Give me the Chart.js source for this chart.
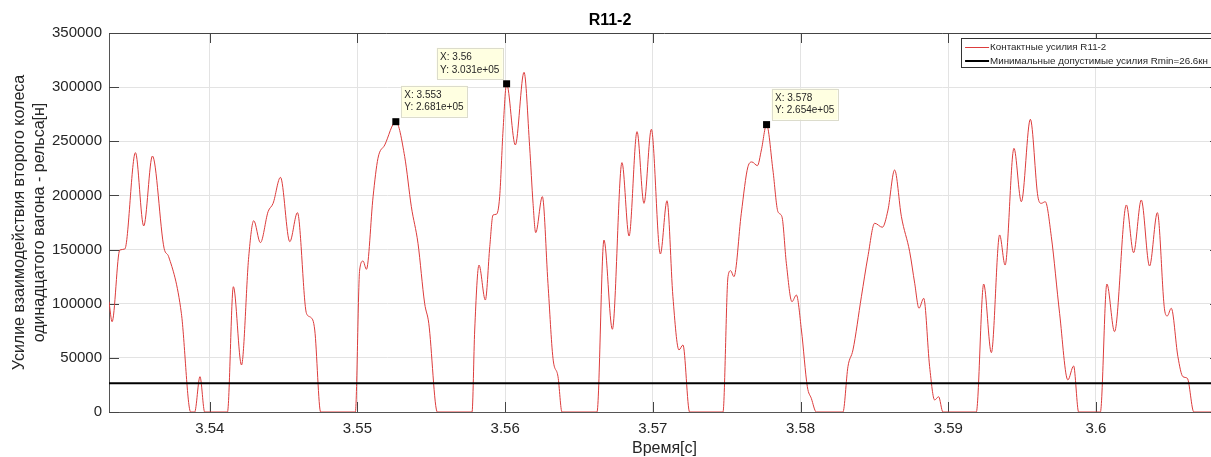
<!DOCTYPE html>
<html>
<head>
<meta charset="utf-8">
<title>R11-2</title>
<script src="https://cdn.jsdelivr.net/npm/chart.js@4/dist/chart.umd.min.js"></script>
<style>
  html, body { margin: 0; padding: 0; background: #fff; }
  #frame { width: 1211px; height: 457px; overflow: hidden; position: relative; }
  #wrap { width: 1224px; height: 457px; position: relative; }
</style>
</head>
<body>
<div id="frame"><div id="wrap"><canvas id="chart"></canvas></div></div>
<script>
// Contact force between wheel 2 of car 11 and the rail: time [s], force [N]
const time = [
  3.53318, 3.53339, 3.53391, 3.53425, 3.53497, 3.53553, 3.53612, 3.53691, 3.53722, 3.53808,
  3.53871, 3.53898, 3.53934, 3.53966, 3.5412, 3.5416, 3.54215, 3.54264, 3.54298, 3.54343,
  3.54395, 3.54429, 3.54479, 3.54542, 3.54594, 3.54655, 3.54684, 3.54711, 3.54751, 3.54986,
  3.55015, 3.55038, 3.55061, 3.55106, 3.55139, 3.55185, 3.5526, 3.5532, 3.55365, 3.5541,
  3.55455, 3.55483, 3.55541, 3.55776, 3.55794, 3.55823, 3.55866, 3.55896, 3.55918, 3.55941,
  3.55963, 3.55986, 3.5601, 3.56069, 3.56128, 3.56166, 3.56189, 3.56207, 3.56252, 3.5629,
  3.56324, 3.56358, 3.56385, 3.56622, 3.56669, 3.56726, 3.56791, 3.56839, 3.56893, 3.5694,
  3.5699, 3.57051, 3.57096, 3.57136, 3.57177, 3.57204, 3.57249, 3.57475, 3.57509, 3.57527,
  3.57549, 3.57599, 3.57644, 3.57671, 3.57708, 3.57735, 3.5777, 3.57813, 3.57847, 3.57874,
  3.57904, 3.57942, 3.57972, 3.58006, 3.58046, 3.58073, 3.58107, 3.58287, 3.58321, 3.58355,
  3.58412, 3.58456, 3.58502, 3.58554, 3.58592, 3.58637, 3.58683, 3.58739, 3.58773, 3.58802,
  3.58834, 3.58874, 3.58908, 3.58935, 3.58964, 3.5919, 3.5924, 3.59292, 3.59348, 3.59385,
  3.59445, 3.59495, 3.59556, 3.59607, 3.5963, 3.59657, 3.59698, 3.59754, 3.5981, 3.59849,
  3.59883, 3.6003, 3.60074, 3.60126, 3.60206, 3.60255, 3.60307, 3.60363, 3.60416, 3.60465,
  3.60483, 3.6051, 3.60555, 3.60589, 3.60619, 3.60663, 3.6084
];
const force = [
  101900, 83400, 149600, 150500, 239500, 171800, 236400, 151200, 143400, 91100,
  0, 0, 32600, 0, 0, 115700, 43400, 143400, 176700, 156400,
  185000, 192700, 216700, 157300, 184100, 91100, 87400, 75700, 0, 0,
  131100, 139400, 131800, 198900, 234300, 246600, 268100, 235800, 189600, 155800,
  100400, 81900, 0, 0, 75700, 135700, 103400, 152700, 181900, 182600,
  198900, 260400, 303100, 246600, 313700, 245000, 192700, 165600, 198900, 118800,
  49600, 32600, 0, 0, 158800, 76400, 230300, 162500, 258900, 192700,
  261100, 145900, 195100, 106500, 57300, 61900, 0, 0, 125000, 130500,
  125000, 183500, 226500, 230900, 227500, 242000, 265400, 223500, 185000, 180400,
  137300, 101900, 108000, 75700, 23400, 12600, 0, 0, 41900, 57300,
  106500, 143400, 174300, 170600, 186500, 223500, 180400, 148000, 118800, 95800,
  105000, 41900, 11100, 14100, 0, 0, 118200, 54800, 163500, 135700,
  243500, 194200, 270300, 198900, 192700, 194200, 161900, 91100, 29600, 42500,
  0, 0, 118200, 74200, 191200, 147100, 195800, 134800, 184100, 94200,
  88700, 95800, 51100, 32600, 31100, 0, 0
];

// Minimum permissible force, N
const RMIN = 26600;

// Axis ticks
const xTicks = [3.54, 3.55, 3.56, 3.57, 3.58, 3.59, 3.60];
const yTicks = [0, 50000, 100000, 150000, 200000, 250000, 300000, 350000];

// Data cursors
const tipX = [3.5526, 3.5601, 3.5777];
const tipY = [268100, 303100, 265400];

const seriesLabel = 'Контактные усилия R11-2';
const rminLabel = 'Минимальные допустимые усилия Rmin=' + (RMIN / 1000) + 'кн';

const FONT = "'Liberation Sans', Arial, Helvetica, sans-serif";
const TEXT = '#262626';

const curve = time.map((t, i) => ({ x: t, y: force[i] }));
const xMin = 3.53318, xMax = 3.6084;
const rminLine = [{ x: xMin, y: RMIN }, { x: xMax, y: RMIN }];

const fmtX = v => String(parseFloat(v.toPrecision(4)));
const fmtY = v => v.toExponential(3).replace(/e([+-])(\d)$/, 'e$10$2');

// Box outline and inward tick marks on all four sides
const axesFrame = {
  id: 'axesFrame',
  beforeDatasetsDraw(chart) {
    const { ctx, chartArea: a, scales } = chart;
    const len = 10;
    ctx.save();
    ctx.strokeStyle = '#444';
    ctx.lineWidth = 1;
    ctx.beginPath();
    ctx.moveTo(a.left, a.top + 0.5); ctx.lineTo(a.right, a.top + 0.5);
    ctx.moveTo(a.right - 0.5, a.top); ctx.lineTo(a.right - 0.5, a.bottom);
    xTicks.forEach(v => {
      const px = Math.round(scales.x.getPixelForValue(v)) + 0.5;
      ctx.moveTo(px, a.bottom); ctx.lineTo(px, a.bottom - len);
      ctx.moveTo(px, a.top); ctx.lineTo(px, a.top + len);
    });
    yTicks.forEach(v => {
      const py = Math.round(scales.y.getPixelForValue(v)) + 0.5;
      ctx.moveTo(a.left, py); ctx.lineTo(a.left + len, py);
      ctx.moveTo(a.right, py); ctx.lineTo(a.right - len, py);
    });
    ctx.stroke();
    ctx.restore();
  }
};

// Data cursor boxes
const dataTips = {
  id: 'dataTips',
  afterDraw(chart, args, opts) {
    const { ctx, scales } = chart;
    ctx.save();
    ctx.font = '10px ' + FONT;
    ctx.textBaseline = 'middle';
    tipX.forEach((xv, i) => {
      const px = scales.x.getPixelForValue(xv);
      const py = scales.y.getPixelForValue(tipY[i]);
      const l1 = 'X: ' + fmtX(xv);
      const l2 = 'Y: ' + fmtY(tipY[i]);
      const w = Math.ceil(Math.max(ctx.measureText(l1).width, ctx.measureText(l2).width)) + 6;
      const h = 31;
      const side = opts.sides[i];
      const bx = side === 'left' ? px - 4 - w : px + 5;
      const by = py - 5 - h;
      ctx.fillStyle = '#ffffe1';
      ctx.fillRect(bx, by, w, h);
      ctx.strokeStyle = '#dcdccc';
      ctx.lineWidth = 1;
      ctx.strokeRect(Math.round(bx) + 0.5, Math.round(by) + 0.5, w, h);
      ctx.fillStyle = TEXT;
      ctx.fillText(l1, bx + 3.5, by + 9.5);
      ctx.fillText(l2, bx + 3.5, by + 22);
      ctx.fillStyle = '#000';
      ctx.fillRect(px - 3.5, py - 3.5, 7, 7);
    });
    ctx.restore();
  }
};

// Legend box in the upper right corner of the axes
const boxLegend = {
  id: 'boxLegend',
  afterDraw(chart) {
    const { ctx, chartArea: a } = chart;
    const items = [chart.data.datasets[1], chart.data.datasets[0]];
    ctx.save();
    ctx.font = '9.8px ' + FONT;
    ctx.textBaseline = 'middle';
    const tw = Math.max(...items.map(d => ctx.measureText(d.label).width));
    const w = 29 + tw + 4;
    const h = 29;
    const right = a.right - 8;
    const left = right - w;
    const top = a.top + 5;
    ctx.fillStyle = '#fff';
    ctx.fillRect(left, top, w, h);
    ctx.strokeStyle = '#333';
    ctx.lineWidth = 1;
    ctx.strokeRect(Math.round(left) + 0.5, Math.round(top) + 0.5, w, h);
    items.forEach((d, i) => {
      const cy = top + 9.5 + i * 13.5;
      ctx.strokeStyle = d.borderColor;
      ctx.lineWidth = d.borderWidth;
      ctx.beginPath();
      ctx.moveTo(left + 4, cy);
      ctx.lineTo(left + 28, cy);
      ctx.stroke();
      ctx.fillStyle = TEXT;
      ctx.fillText(d.label, left + 29, cy);
    });
    ctx.restore();
  }
};

new Chart(document.getElementById('chart'), {
  type: 'line',
  data: {
    datasets: [
      {
        label: rminLabel,
        data: rminLine,
        borderColor: '#000',
        borderWidth: 2,
        pointRadius: 0,
        order: 0
      },
      {
        label: seriesLabel,
        data: curve,
        borderColor: 'rgb(220, 60, 60)',
        borderWidth: 1,
        pointRadius: 0,
        cubicInterpolationMode: 'monotone',
        order: 1
      }
    ]
  },
  options: {
    responsive: true,
    maintainAspectRatio: false,
    animation: false,
    devicePixelRatio: 1,
    events: [],
    layout: { padding: { left: 0, right: 4, top: 0, bottom: 0 } },
    plugins: {
      legend: { display: false },
      tooltip: { enabled: false },
      title: {
        display: true,
        text: 'R11-2',
        color: '#000',
        font: { family: FONT, size: 16, weight: 'bold', lineHeight: 1.2 },
        padding: { top: 11, bottom: 2.8 }
      },
      dataTips: { sides: ['right', 'left', 'right'] }
    },
    scales: {
      x: {
        type: 'linear',
        min: xMin,
        max: xMax,
        afterBuildTicks: s => { s.ticks = xTicks.map(v => ({ value: v })); },
        afterFit: s => { s.height = 45; },
        ticks: {
          callback: v => String(parseFloat(v.toFixed(2))),
          color: TEXT,
          font: { family: FONT, size: 15 },
          padding: 8,
          maxRotation: 0,
          autoSkip: false
        },
        grid: { color: '#e3e3e3', drawTicks: false },
        border: { color: '#555', width: 1 },
        title: {
          display: true,
          text: 'Время[с]',
          color: TEXT,
          font: { family: FONT, size: 16, lineHeight: 1.0 },
          padding: { top: 0, bottom: 0 }
        }
      },
      y: {
        type: 'linear',
        min: 0,
        max: 350000,
        afterBuildTicks: s => { s.ticks = yTicks.map(v => ({ value: v })); },
        afterFit: s => { s.width = 109; },
        ticks: {
          callback: v => String(v),
          color: TEXT,
          font: { family: FONT, size: 15 },
          padding: 7
        },
        grid: { color: '#e3e3e3', drawTicks: false },
        border: { color: '#555', width: 1 },
        title: {
          display: true,
          text: ['Усилие взаимодействия второго колеса', 'одинадцатого вагона - рельса[н]'],
          color: TEXT,
          font: { family: FONT, size: 16, lineHeight: 1.25 },
          padding: { top: 10, bottom: 0 }
        }
      }
    }
  },
  plugins: [axesFrame, dataTips, boxLegend]
});
</script>
</body>
</html>
